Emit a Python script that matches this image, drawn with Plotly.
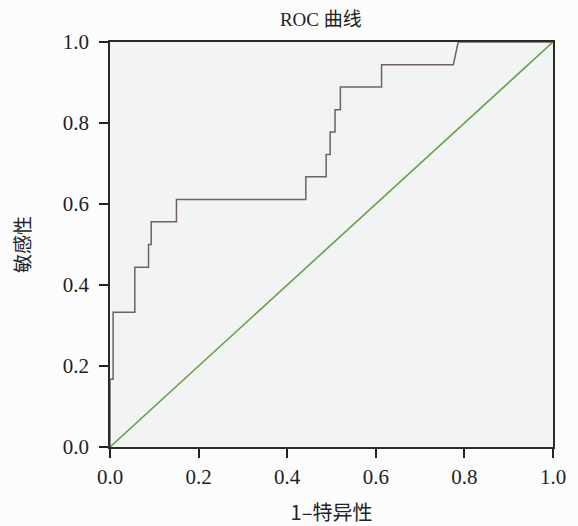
import plotly.graph_objects as go

# ROC step curve: false positive rate (1 - specificity) vs. sensitivity
fpr = [0.0, 0.0, 0.007, 0.007, 0.056, 0.056, 0.087, 0.087, 0.093, 0.093,
       0.150, 0.150, 0.442, 0.442, 0.488, 0.488, 0.497, 0.497, 0.508, 0.508,
       0.520, 0.520, 0.613, 0.613, 0.775, 0.786, 1.0]
tpr = [0.0, 0.167, 0.167, 0.333, 0.333, 0.444, 0.444, 0.500, 0.500, 0.556,
       0.556, 0.611, 0.611, 0.667, 0.667, 0.722, 0.722, 0.778, 0.778, 0.833,
       0.833, 0.889, 0.889, 0.944, 0.944, 1.0, 1.0]

# reference (chance) line
ref_x = [0.0, 1.0]
ref_y = [0.0, 1.0]

tick_vals = [0.0, 0.2, 0.4, 0.6, 0.8, 1.0]
tick_text = ["0.0", "0.2", "0.4", "0.6", "0.8", "1.0"]

serif = "Liberation Serif, Times New Roman, serif"
cjk = "Noto Sans CJK SC, sans-serif"

fig = go.Figure()
fig.add_trace(go.Scatter(x=ref_x, y=ref_y, mode="lines",
                         line=dict(color="#64a04e", width=1.6),
                         hoverinfo="skip", showlegend=False))
fig.add_trace(go.Scatter(x=fpr, y=tpr, mode="lines",
                         line=dict(color="#6f6165", width=1.5),
                         showlegend=False))

axis_common = dict(
    range=[0, 1.0], tickvals=tick_vals, ticktext=tick_text,
    ticks="outside", ticklen=9, tickwidth=2, tickcolor="#222",
    showline=True, linecolor="#2a2a2a", linewidth=1.6, mirror=True,
    showgrid=False, zeroline=False, layer="below traces",
    automargin=False,
    tickfont=dict(family=serif, size=21, color="#222"),
)

fig.update_layout(
    width=578, height=526,
    margin=dict(l=110, r=25, t=42, b=79),
    paper_bgcolor="#fcfcfc",
    plot_bgcolor="#f2f4f3",
    title=dict(text="ROC 曲线", x=0.555, xanchor="center", y=0.964, yanchor="middle",
               font=dict(family=serif + ", " + cjk, size=19, color="#222")),
    xaxis=dict(**axis_common, ticklabelstandoff=1,
               title=dict(text="1–特异性", standoff=18,
                          font=dict(family=cjk, size=20, color="#222"))),
    yaxis=dict(**axis_common, ticklabelstandoff=6,
               title=dict(text="敏感性", standoff=27,
                          font=dict(family=cjk, size=19, color="#222"))),
)

fig.write_html("out.html")
